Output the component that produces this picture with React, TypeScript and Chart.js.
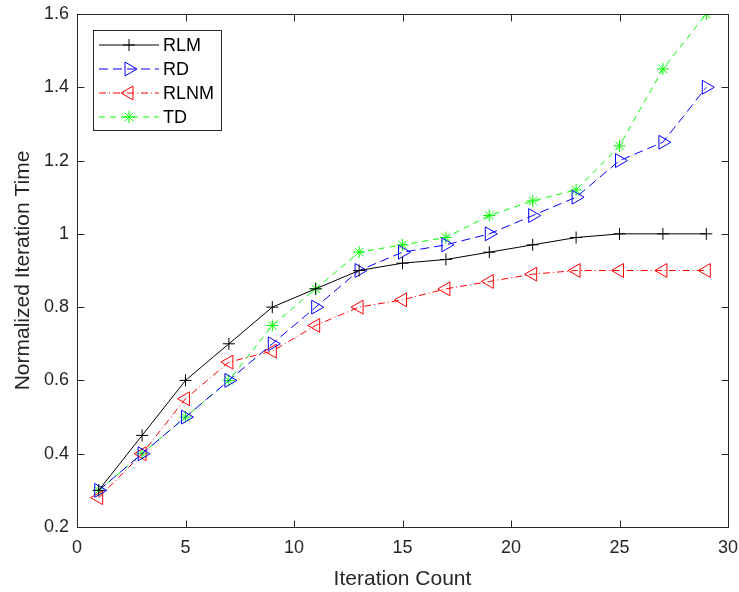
import React, { useEffect, useRef } from "react";
import { Chart, registerables } from "chart.js";
import { drawPoint } from "chart.js/helpers";
Chart.register(...registerables);

const xValues = [1, 3, 5, 7, 9, 11, 13, 15, 17, 19, 21, 23, 25, 27, 29];
const rlm = [0.3, 0.45, 0.6, 0.7, 0.8, 0.85, 0.9, 0.92, 0.93, 0.95, 0.97, 0.99, 1.0, 1.0, 1.0];
const rd = [0.3, 0.4, 0.5, 0.6, 0.7, 0.8, 0.9, 0.95, 0.97, 1.0, 1.05, 1.1, 1.2, 1.25, 1.4];
const rlnm = [0.28, 0.4, 0.55, 0.65, 0.68, 0.75, 0.8, 0.82, 0.85, 0.87, 0.89, 0.9, 0.9, 0.9, 0.9];
const td = [0.3, 0.4, 0.5, 0.6, 0.75, 0.85, 0.95, 0.97, 0.99, 1.05, 1.09, 1.12, 1.24, 1.45, 1.6];
const seriesNames = ["RLM", "RD", "RLNM", "TD"];
const xTickValues = [0, 5, 10, 15, 20, 25, 30];
const yTickValues = [0.2, 0.4, 0.6, 0.8, 1, 1.2, 1.4, 1.6];
const yTickLabels = ["0.2", "0.4", "0.6", "0.8", "1", "1.2", "1.4", "1.6"];

const FONT = "'Liberation Sans', Arial, Helvetica, sans-serif";
const AXIS = "#262626";
const COLORS = ["#000000", "#0000ff", "#ff0000", "#00ff00"];
const DASHES = [[], [9, 5], [7, 3, 1, 3], [6, 5]];
const STYLES = ["cross", "triangle", "triangle", "star"];
const ROTS = [0, 90, -90, 0];
const RADII = [6, 8, 8, 6];

const boxPlugin = {
  id: "matlabBox",
  afterDatasetsDraw(chart: any) {
    const { ctx, chartArea: a, scales } = chart;
    ctx.save();
    ctx.strokeStyle = AXIS;
    ctx.lineWidth = 1;
    ctx.setLineDash([]);
    const L = Math.round(a.left) + 0.5, T = Math.round(a.top) + 0.5;
    const R = Math.round(a.right) + 0.5, B = Math.round(a.bottom) + 0.5;
    ctx.strokeRect(L, T, R - L, B - T);
    const tl = 7;
    ctx.beginPath();
    xTickValues.forEach((v) => {
      const px = Math.round(scales.x.getPixelForValue(v)) + 0.5;
      ctx.moveTo(px, B); ctx.lineTo(px, B - tl);
      ctx.moveTo(px, T); ctx.lineTo(px, T + tl);
    });
    yTickValues.forEach((v) => {
      const py = Math.round(scales.y.getPixelForValue(v)) + 0.5;
      ctx.moveTo(L, py); ctx.lineTo(L + tl, py);
      ctx.moveTo(R, py); ctx.lineTo(R - tl, py);
    });
    ctx.stroke();

    // legend
    const lx = 93.5, ly = 30.5, lw = 128, lh = 100;
    ctx.fillStyle = "#fff";
    ctx.fillRect(lx, ly, lw, lh);
    ctx.strokeStyle = AXIS;
    ctx.strokeRect(lx, ly, lw, lh);
    const rows = [45, 69, 93, 117];
    seriesNames.forEach((name, i) => {
      const y = rows[i];
      ctx.save();
      ctx.strokeStyle = COLORS[i];
      ctx.lineWidth = 1;
      ctx.setLineDash(DASHES[i]);
      ctx.beginPath();
      ctx.moveTo(99, y); ctx.lineTo(159, y);
      ctx.stroke();
      ctx.setLineDash([]);
      ctx.strokeStyle = COLORS[i];
      ctx.fillStyle = "rgba(0,0,0,0)";
      ctx.lineWidth = 1;
      drawPoint(ctx, { pointStyle: STYLES[i], rotation: ROTS[i], radius: RADII[i], borderWidth: 1 } as any, 129, y);
      ctx.restore();
      ctx.fillStyle = "#000";
      ctx.font = `18px ${FONT}`;
      ctx.textBaseline = "middle";
      ctx.textAlign = "left";
      ctx.fillText(name, 163, y + 1);
    });
    ctx.restore();
  },
};

export default function App() {
  const ref = useRef<HTMLCanvasElement>(null);
  useEffect(() => {
    if (!ref.current) return;
    const mk = (i: number, data: number[]) => ({
      label: seriesNames[i],
      data: data.map((v, k) => ({ x: xValues[k], y: v })),
      borderColor: COLORS[i],
      backgroundColor: "rgba(0,0,0,0)",
      borderWidth: 1,
      borderDash: DASHES[i],
      pointStyle: STYLES[i],
      pointRotation: ROTS[i],
      pointRadius: RADII[i],
      pointBorderColor: COLORS[i],
      pointBackgroundColor: "rgba(0,0,0,0)",
      pointBorderWidth: 1,
      tension: 0,
      fill: false,
    });
    const chart = new Chart(ref.current, {
      type: "line",
      data: {
        datasets: [mk(0, rlm), mk(1, rd), mk(2, rlnm), mk(3, td)] as any,
      },
      options: {
        animation: false,
        responsive: false,
        layout: { padding: { left: 0, right: 11, top: 14, bottom: 0 } },
        plugins: { legend: { display: false }, tooltip: { enabled: false } },
        scales: {
          x: {
            type: "linear",
            min: 0,
            max: 30,
            afterFit: (s: any) => { s.height = 65; s.paddingLeft = 0; s.paddingRight = 0; },
            afterBuildTicks: (s: any) => { s.ticks = xTickValues.map((v) => ({ value: v })); },
            grid: { display: false, drawTicks: false },
            border: { display: false },
            ticks: { color: AXIS, font: { family: FONT, size: 18 }, padding: 10, maxRotation: 0 },
            title: { display: true, text: "Iteration Count", color: AXIS, font: { family: FONT, size: 21 }, padding: { top: 4, bottom: 0 } },
          },
          y: {
            type: "linear",
            min: 0.2,
            max: 1.6,
            afterFit: (s: any) => { s.width = 77; s.paddingTop = 0; s.paddingBottom = 0; },
            afterBuildTicks: (s: any) => { s.ticks = yTickValues.map((v) => ({ value: v })); },
            grid: { display: false, drawTicks: false },
            border: { display: false },
            ticks: {
              color: AXIS,
              font: { family: FONT, size: 18 },
              padding: 8,
              callback: (v: any) => { const i = yTickValues.indexOf(Number(v)); return i >= 0 ? yTickLabels[i] : ""; },
            },
            title: { display: true, text: "Normalized Iteration Time", color: AXIS, font: { family: FONT, size: 21 }, padding: { top: 11, bottom: 2 } },
          },
        },
      } as any,
      plugins: [boxPlugin],
    });
    return () => chart.destroy();
  }, []);
  return (
    <div style={{ position: "fixed", left: 0, top: 0, width: 739, height: 592, background: "#fff" }}>
      <canvas ref={ref} width={739} height={592} style={{ width: 739, height: 592 }} />
    </div>
  );
}
